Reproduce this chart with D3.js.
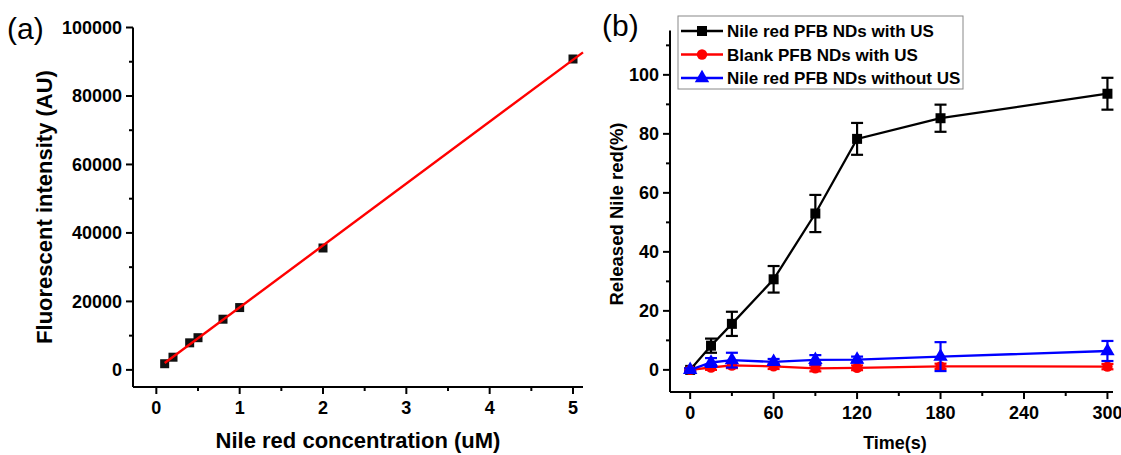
<!DOCTYPE html>
<html>
<head>
<meta charset="utf-8">
<script src="https://cdn.jsdelivr.net/npm/d3@7"></script>
<style>
  body { margin: 0; background: #fff; }
  svg { font-family: "Liberation Sans", Arial, sans-serif; }
</style>
</head>
<body>
<svg id="chart" width="1121" height="455"></svg>
<script>
// panel (a) calibration data
var concA = [0.1, 0.2, 0.4, 0.5, 0.8, 1, 2, 5];
var intensityA = [1800, 3700, 7900, 9400, 14800, 18200, 35600, 90800];
var yTicksA = [0, 20000, 40000, 60000, 80000, 100000];
var xTicksA = [0, 1, 2, 3, 4, 5];

// panel (b) release data
var timeB = [0, 15, 30, 60, 90, 120, 180, 300];
var withUS = [0, 8.2, 15.6, 30.7, 53.0, 78.3, 85.3, 93.6];
var withUSErr = [0.5, 2.4, 4.1, 4.5, 6.3, 5.4, 4.6, 5.4];
var blankUS = [0, 0.8, 1.5, 1.2, 0.5, 0.7, 1.2, 1.1];
var blankUSErr = [0.4, 0.8, 0.9, 0.9, 1.0, 0.8, 0.9, 0.9];
var withoutUS = [0, 2.5, 3.3, 2.7, 3.4, 3.5, 4.5, 6.4];
var withoutUSErr = [0.5, 1.5, 2.5, 1.0, 1.6, 1.0, 4.9, 3.4];
var seriesNames = ["Nile red PFB NDs with US", "Blank PFB NDs with US", "Nile red PFB NDs without US"];
var yTicksB = [0, 20, 40, 60, 80, 100];
var xTicksB = [0, 60, 120, 180, 240, 300];

var svg = d3.select('#chart');

function drawAxes(g, x, y, xMajor, xMinor, yMajor, yMinor, fs) {
  var xa = g.append('g').attr('transform', 'translate(0,' + y.range()[0] + ')');
  xa.append('line').attr('x1', x.range()[0]).attr('x2', x.range()[1])
    .attr('stroke', '#000').attr('stroke-width', 2);
  xa.selectAll('.mj').data(xMajor).enter().append('line')
    .attr('x1', function(d){ return x(d); }).attr('x2', function(d){ return x(d); })
    .attr('y1', 0).attr('y2', 7).attr('stroke', '#000').attr('stroke-width', 2);
  xa.selectAll('.mn').data(xMinor).enter().append('line')
    .attr('x1', function(d){ return x(d); }).attr('x2', function(d){ return x(d); })
    .attr('y1', 0).attr('y2', 4).attr('stroke', '#000').attr('stroke-width', 2);
  xa.selectAll('text').data(xMajor).enter().append('text')
    .attr('x', function(d){ return x(d); }).attr('y', 27)
    .attr('text-anchor', 'middle').attr('font-size', fs).attr('font-weight', 'bold')
    .text(function(d){ return d; });

  var ya = g.append('g').attr('transform', 'translate(' + x.range()[0] + ',0)');
  ya.append('line').attr('y1', y.range()[0]).attr('y2', y.range()[1])
    .attr('stroke', '#000').attr('stroke-width', 2);
  ya.selectAll('.mj').data(yMajor).enter().append('line')
    .attr('y1', function(d){ return y(d); }).attr('y2', function(d){ return y(d); })
    .attr('x1', 0).attr('x2', -7).attr('stroke', '#000').attr('stroke-width', 2);
  ya.selectAll('.mn').data(yMinor).enter().append('line')
    .attr('y1', function(d){ return y(d); }).attr('y2', function(d){ return y(d); })
    .attr('x1', 0).attr('x2', -4).attr('stroke', '#000').attr('stroke-width', 2);
  ya.selectAll('text').data(yMajor).enter().append('text')
    .attr('x', -11).attr('y', function(d){ return y(d); }).attr('dy', '0.36em')
    .attr('text-anchor', 'end').attr('font-size', fs).attr('font-weight', 'bold')
    .text(function(d){ return d; });
}

// ---------- panel (a) ----------
var xA = d3.scaleLinear().domain([-0.28, 5.12]).range([133, 583]);
var yA = d3.scaleLinear().domain([-5000, 100000]).range([387, 27.5]);
var gA = svg.append('g');

drawAxes(gA, xA, yA, xTicksA, [0.5, 1.5, 2.5, 3.5, 4.5],
  yTicksA, [10000, 30000, 50000, 70000, 90000], 18);

gA.append('text').attr('x', 7).attr('y', 39).attr('font-size', 30).text('(a)');
gA.append('text').attr('x', 358).attr('y', 448).attr('text-anchor', 'middle')
  .attr('font-size', 22).attr('font-weight', 'bold').text('Nile red concentration (uM)');
gA.append('text').attr('transform', 'translate(52,207) rotate(-90)').attr('text-anchor', 'middle')
  .attr('font-size', 22).attr('font-weight', 'bold').text('Fluorescent intensity (AU)');

gA.selectAll('rect.pt').data(concA).enter().append('rect')
  .attr('x', function(d){ return xA(d) - 4.5; })
  .attr('y', function(d, i){ return yA(intensityA[i]) - 4.5; })
  .attr('width', 9).attr('height', 9).attr('fill', '#111');

// least squares fit line
var mx = d3.mean(concA), my = d3.mean(intensityA);
var slope = d3.sum(concA, function(d, i){ return (d - mx) * (intensityA[i] - my); }) /
            d3.sum(concA, function(d){ return (d - mx) * (d - mx); });
var icpt = my - slope * mx;
var fitX = [concA[0], xA.domain()[1]];
gA.append('path')
  .attr('d', d3.line().x(function(d){ return xA(d); }).y(function(d){ return yA(icpt + slope * d); })(fitX))
  .attr('stroke', '#ff0000').attr('stroke-width', 2.4).attr('fill', 'none');

// ---------- panel (b) ----------
var xB = d3.scaleLinear().domain([-14.5, 304]).range([670, 1113]);
var yB = d3.scaleLinear().domain([-7.5, 115]).range([392, 30.6]);
var gB = svg.append('g');

drawAxes(gB, xB, yB, xTicksB, [30, 90, 150, 210, 270],
  yTicksB, [10, 30, 50, 70, 90, 110], 18);

gB.append('text').attr('x', 602).attr('y', 36).attr('font-size', 30).text('(b)');
gB.append('text').attr('x', 895).attr('y', 449).attr('text-anchor', 'middle')
  .attr('font-size', 18).attr('font-weight', 'bold').text('Time(s)');
gB.append('text').attr('transform', 'translate(623,214) rotate(-90)').attr('text-anchor', 'middle')
  .attr('font-size', 18.5).attr('font-weight', 'bold').text('Released Nile red(%)');

var symbols = [d3.symbolSquare, d3.symbolCircle, d3.symbolTriangle];
var symSize = [100, 85, 90];
var colors = ['#000000', '#ff0000', '#0000ff'];
var values = [withUS, blankUS, withoutUS];
var errs = [withUSErr, blankUSErr, withoutUSErr];

var line = d3.line().x(function(d){ return xB(d[0]); }).y(function(d){ return yB(d[1]); });

values.forEach(function(vals, s) {
  var pts = timeB.map(function(t, i){ return [t, vals[i], errs[s][i]]; });
  var g = gB.append('g');
  g.append('path').attr('d', line(pts)).attr('fill', 'none')
    .attr('stroke', colors[s]).attr('stroke-width', 2.3);
  var eb = g.selectAll('g.eb').data(pts).enter().append('g')
    .attr('stroke', colors[s]).attr('stroke-width', 2.2);
  eb.append('line').attr('x1', function(d){ return xB(d[0]); }).attr('x2', function(d){ return xB(d[0]); })
    .attr('y1', function(d){ return yB(d[1] + d[2]); }).attr('y2', function(d){ return yB(d[1] - d[2]); });
  eb.append('line').attr('x1', function(d){ return xB(d[0]) - 6; }).attr('x2', function(d){ return xB(d[0]) + 6; })
    .attr('y1', function(d){ return yB(d[1] + d[2]); }).attr('y2', function(d){ return yB(d[1] + d[2]); });
  eb.append('line').attr('x1', function(d){ return xB(d[0]) - 6; }).attr('x2', function(d){ return xB(d[0]) + 6; })
    .attr('y1', function(d){ return yB(d[1] - d[2]); }).attr('y2', function(d){ return yB(d[1] - d[2]); });
  g.selectAll('path.m').data(pts).enter().append('path')
    .attr('transform', function(d){ return 'translate(' + xB(d[0]) + ',' + yB(d[1]) + ')'; })
    .attr('d', d3.symbol().type(symbols[s]).size(symSize[s]))
    .attr('fill', colors[s]);
});

// legend
var lg = gB.append('g').attr('transform', 'translate(678,16)');
lg.append('rect').attr('width', 285).attr('height', 73)
  .attr('fill', '#fff').attr('stroke', '#888').attr('stroke-width', 1);
seriesNames.forEach(function(name, s) {
  var yy = 15 + s * 23.5;
  lg.append('line').attr('x1', 3).attr('x2', 45).attr('y1', yy).attr('y2', yy)
    .attr('stroke', colors[s]).attr('stroke-width', 2.3);
  lg.append('path').attr('transform', 'translate(24,' + yy + ')')
    .attr('d', d3.symbol().type(symbols[s]).size(symSize[s])).attr('fill', colors[s]);
  lg.append('text').attr('x', 49).attr('y', yy).attr('dy', '0.36em')
    .attr('font-size', 17).attr('font-weight', 'bold').text(name);
});
</script>
</body>
</html>
